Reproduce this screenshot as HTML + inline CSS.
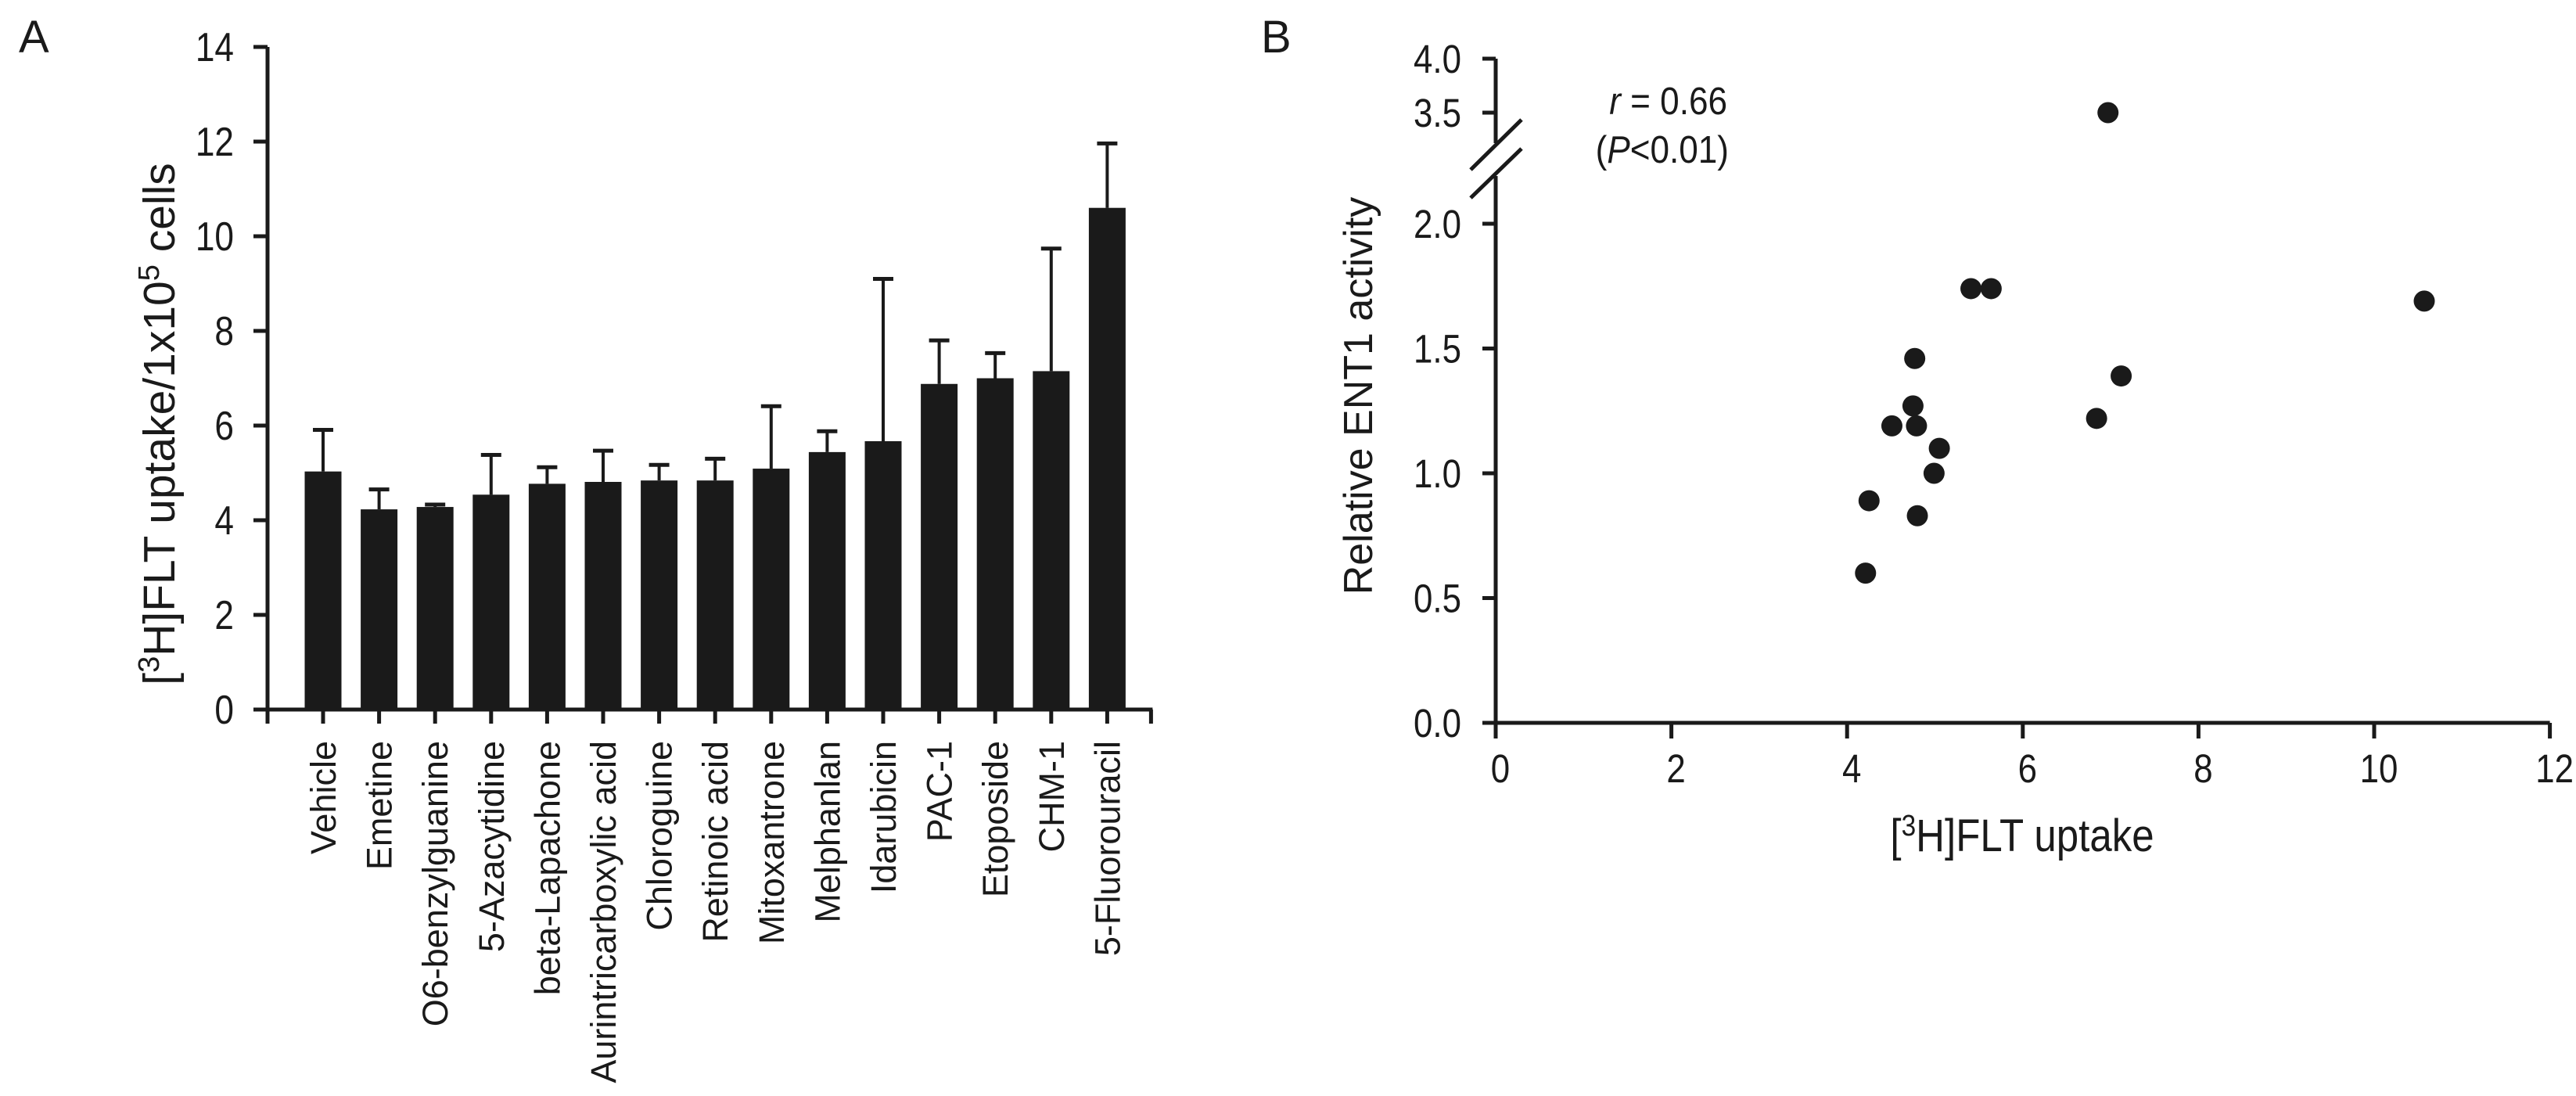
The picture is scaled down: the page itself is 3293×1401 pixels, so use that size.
<!DOCTYPE html>
<html><head><meta charset="utf-8"><style>
html,body{margin:0;padding:0;background:#fff;}
svg{display:block;font-family:"Liberation Sans",Arial,sans-serif;}
</style></head><body>
<svg id="fig" width="3293" height="1401" viewBox="0 0 3293 1401" xmlns="http://www.w3.org/2000/svg">
<g id="panelA"></g>
<g id="panelB"></g>
</svg>
<script>
const categories = ["Vehicle","Emetine","O6-benzylguanine","5-Azacytidine","beta-Lapachone","Aurintricarboxylic acid","Chloroguine","Retinoic acid","Mitoxantrone","Melphanlan","Idarubicin","PAC-1","Etoposide","CHM-1","5-Fluorouracil"];
const barMeans = [5.03,4.23,4.28,4.54,4.77,4.81,4.84,4.84,5.09,5.44,5.67,6.88,7.00,7.15,10.60];
const barErrTop = [5.91,4.65,4.33,5.38,5.12,5.47,5.17,5.30,6.41,5.88,9.10,7.80,7.53,9.74,11.96];
const aTicks = [0,2,4,6,8,10,12,14];
const ptX = [6.97,5.41,5.64,10.57,4.77,7.12,4.75,6.84,4.51,4.79,5.05,4.99,4.25,4.80,4.21];
const ptY = [3.50,1.74,1.74,1.69,1.46,1.39,1.27,1.22,1.19,1.19,1.10,1.00,0.89,0.83,0.60];
const bXTicks = [0,2,4,6,8,10,12];
const bYTicksLow = ["0.0","0.5","1.0","1.5","2.0"];
const bYTicksHigh = ["3.5","4.0"];

const NS="http://www.w3.org/2000/svg";
const C="#1a1a1a";
function mk(parent,tag,attrs){const e=document.createElementNS(NS,tag);for(const k in attrs)e.setAttribute(k,attrs[k]);parent.appendChild(e);return e;}
function line(p,x1,y1,x2,y2,w){return mk(p,"line",{x1,y1,x2,y2,stroke:C,"stroke-width":w||5});}

// ---- Panel A ----
const A=document.getElementById("panelA");
const ax0=342, ay0=907, ayTop=60, aPer=(ay0-ayTop)/14;
const yA=v=>ay0-v*aPer;
const barX=i=>413+i*71.6;
const axEnd=413+14*71.6+58;
let t=mk(A,"text",{x:24,y:67,"font-size":58,fill:C});t.textContent="A";


categories.forEach((c,i)=>{
  const x=barX(i);
  const eb=line(A,x,yA(barMeans[i]),x,yA(barErrTop[i]),4);
  
  
  const cap=line(A,x-13,yA(barErrTop[i]),x+13,yA(barErrTop[i]),5);
  
  
  const r=mk(A,"rect",{x:x-23.5,y:yA(barMeans[i]),width:47,height:ay0-yA(barMeans[i]),fill:C});
  
  
  const tk=line(A,x,ay0,x,ay0+18,5);
  
  
  const lb=mk(A,"text",{x:0,y:0,"font-size":45,fill:C,"text-anchor":"end",transform:`translate(${x+16},${ay0+40}) rotate(-90)`});
  lb.textContent=c;
  
  
});
let ya=line(A,ax0,ayTop,ax0,ay0,5);


let xa=line(A,324,ay0,axEnd,ay0,5);


line(A,ax0,ay0,ax0,ay0+18,5);
line(A,axEnd-2,ay0,axEnd-2,ay0+18,5);
aTicks.forEach(v=>{
  const tk=line(A,ax0-18,yA(v),ax0,yA(v),5);
  
  
  const tl=mk(A,"text",{x:0,y:0,"font-size":52,fill:C,"text-anchor":"end",transform:`translate(299,${yA(v)+18}) scale(0.85,1)`});
  tl.textContent=String(v);
  
  
});
let yt=mk(A,"text",{x:0,y:0,"font-size":57,fill:C,"text-anchor":"middle",transform:"translate(223,542) rotate(-90)"});
yt.innerHTML='[<tspan font-size="38" dy="-20">3</tspan><tspan dy="20">H]FLT uptake/1x10</tspan><tspan font-size="38" dy="-20">5</tspan><tspan dy="20"> cells</tspan>';



// ---- Panel B ----
const B=document.getElementById("panelB");
const bx0=1912, bxPer=112.3, by0=924, byPer=319;
const xB=v=>bx0+v*bxPer;
const yLow=v=>by0-v*byPer;
const yHigh=v=>144-(v-3.5)*138;
const yB=v=>v>2.5?yHigh(v):yLow(v);
t=mk(B,"text",{x:1612,y:67,"font-size":58,fill:C});t.textContent="B";


let yb1=line(B,bx0,75,bx0,183,5);


let yb2=line(B,bx0,225,bx0,by0,5);


let br1=line(B,1880,217,1945,153,5);


let br2=line(B,1880,253,1945,190,5);


let xb=line(B,1895,by0,xB(12),by0,5);


bXTicks.forEach(v=>{
  const tk=line(B,xB(v),by0,xB(v),by0+20,5);
  
  
  const tl=mk(B,"text",{x:0,y:0,"font-size":51,fill:C,"text-anchor":"middle",transform:`translate(${xB(v)+6},1000) scale(0.86,1)`});
  tl.textContent=String(v);
  
  
});
bYTicksLow.concat(bYTicksHigh).forEach(s=>{
  const v=parseFloat(s);const y=yB(v);
  const tk=line(B,bx0-17,y,bx0,y,5);
  
  
  const tl=mk(B,"text",{x:0,y:0,"font-size":51,fill:C,"text-anchor":"end",transform:`translate(1868,${y+18}) scale(0.86,1)`});
  tl.textContent=s;
  
  
});
ptX.forEach((x,i)=>{
  const c=mk(B,"circle",{cx:xB(x),cy:yB(ptY[i]),r:13.5,fill:C});
  
  
});
let r1=mk(B,"text",{x:0,y:0,"font-size":49,fill:C,"text-anchor":"end",transform:"translate(2208,146) scale(0.9,1)"});
r1.innerHTML='<tspan font-style="italic">r</tspan> = 0.66';


let r2=mk(B,"text",{x:0,y:0,"font-size":49,fill:C,"text-anchor":"end",transform:"translate(2210,208) scale(0.9,1)"});
r2.innerHTML='(<tspan font-style="italic">P</tspan>&lt;0.01)';


let byt=mk(B,"text",{x:0,y:0,"font-size":52,fill:C,"text-anchor":"middle",transform:"translate(1754,506) rotate(-90)"});
byt.textContent="Relative ENT1 activity";


let bxt=mk(B,"text",{x:0,y:0,"font-size":58,fill:C,"text-anchor":"middle",transform:"translate(2585,1088) scale(0.88,1)"});
bxt.innerHTML='[<tspan font-size="38" dy="-20">3</tspan><tspan dy="20">H]FLT uptake</tspan>';


</script>
</body></html>
